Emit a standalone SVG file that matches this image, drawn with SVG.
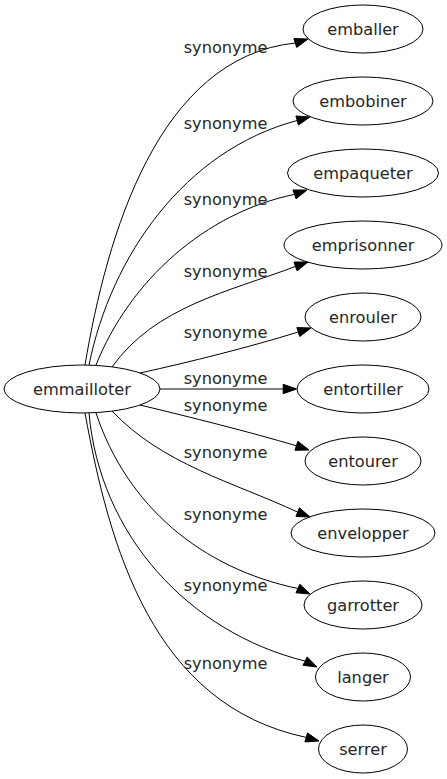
<svg xmlns="http://www.w3.org/2000/svg" width="447" height="779" viewBox="0 0 447 779">
<style>
.n ellipse{fill:none;stroke:#000;stroke-width:1}
text{font-family:"DejaVu Sans","Noto Sans",sans-serif;font-size:16.2px;fill:#262626;text-anchor:middle}
.e path{fill:none;stroke:#000;stroke-width:1}
.e polygon{fill:#000;stroke:#000;stroke-width:1}
</style>
<rect width="447" height="779" fill="#fff"/>
<g id="connectors" class="e">
<path d="M85,365 C106.8,235.2 158,57.3 295.3,43"/><polygon points="308,39 296.7,47.5 293.9,38.5"/>
<path d="M89,365 C111,256.5 184.4,150.3 297.2,120.5"/><polygon points="310,117 298.45,125.03 295.95,115.97"/>
<path d="M96,365 C129.8,280.5 205.5,212.7 294.5,194.4"/><polygon points="307,190 296.07,198.83 292.93,189.97"/>
<path d="M112,367 C155.3,306.3 228.8,291.8 295.5,266.4"/><polygon points="308,262 297.07,270.83 293.93,261.97"/>
<path d="M140,373 C190,362 250,347 298.3,332"/><polygon points="311,328 299.73,336.53 296.87,327.59"/>
<path d="M160,389 L283.2,389"/><polygon points="296.5,389 283.2,393.7 283.2,384.3"/>
<path d="M140,405 C190,417 250,432 296.4,445.8"/><polygon points="309,450 294.93,450.27 297.87,441.33"/>
<path d="M112,411 C162.2,464.2 233.1,482.1 297.7,512.1"/><polygon points="310,517 295.96,516.46 299.44,507.74"/>
<path d="M96,413 C127,506.4 201.9,568.5 297.9,588.5"/><polygon points="310,594 295.97,592.79 299.83,584.21"/>
<path d="M89,413 C99.7,534.3 187.8,631.8 305.1,661.1"/><polygon points="317,667 303,665.3 307.2,656.9"/>
<path d="M85,413 C109.5,547.1 152.5,705 306.2,737.4"/><polygon points="319,741 304.91,741.92 307.49,732.88"/>
<text x="225.5" y="53">synonyme</text>
<text x="225.5" y="129">synonyme</text>
<text x="225.5" y="205">synonyme</text>
<text x="225.5" y="277">synonyme</text>
<text x="225.5" y="338">synonyme</text>
<text x="225.5" y="384">synonyme</text>
<text x="225.5" y="411">synonyme</text>
<text x="225.5" y="458">synonyme</text>
<text x="225.5" y="520">synonyme</text>
<text x="225.5" y="591">synonyme</text>
<text x="225.5" y="669">synonyme</text>
</g>
<g id="emmailloter" class="n"><ellipse cx="82" cy="389" rx="78" ry="24"/><text x="82" y="394.5">emmailloter</text></g>
<g id="emballer" class="n"><ellipse cx="363" cy="29" rx="60" ry="24"/><text x="363" y="34.5">emballer</text></g>
<g id="embobiner" class="n"><ellipse cx="363" cy="101" rx="70" ry="24"/><text x="363" y="106.5">embobiner</text></g>
<g id="empaqueter" class="n"><ellipse cx="363" cy="173" rx="75.5" ry="24"/><text x="363" y="178.5">empaqueter</text></g>
<g id="emprisonner" class="n"><ellipse cx="363" cy="245" rx="79" ry="24"/><text x="363" y="250.5">emprisonner</text></g>
<g id="enrouler" class="n"><ellipse cx="363" cy="317" rx="58" ry="24"/><text x="363" y="322.5">enrouler</text></g>
<g id="entortiller" class="n"><ellipse cx="363" cy="389" rx="66" ry="24"/><text x="363" y="394.5">entortiller</text></g>
<g id="entourer" class="n"><ellipse cx="363" cy="461" rx="58" ry="24"/><text x="363" y="466.5">entourer</text></g>
<g id="envelopper" class="n"><ellipse cx="363" cy="533" rx="72" ry="24"/><text x="363" y="538.5">envelopper</text></g>
<g id="garrotter" class="n"><ellipse cx="363" cy="605" rx="59" ry="24"/><text x="363" y="610.5">garrotter</text></g>
<g id="langer" class="n"><ellipse cx="363" cy="677" rx="47.5" ry="24"/><text x="363" y="682.5">langer</text></g>
<g id="serrer" class="n"><ellipse cx="363" cy="749" rx="44.5" ry="24"/><text x="363" y="754.5">serrer</text></g>
</svg>
